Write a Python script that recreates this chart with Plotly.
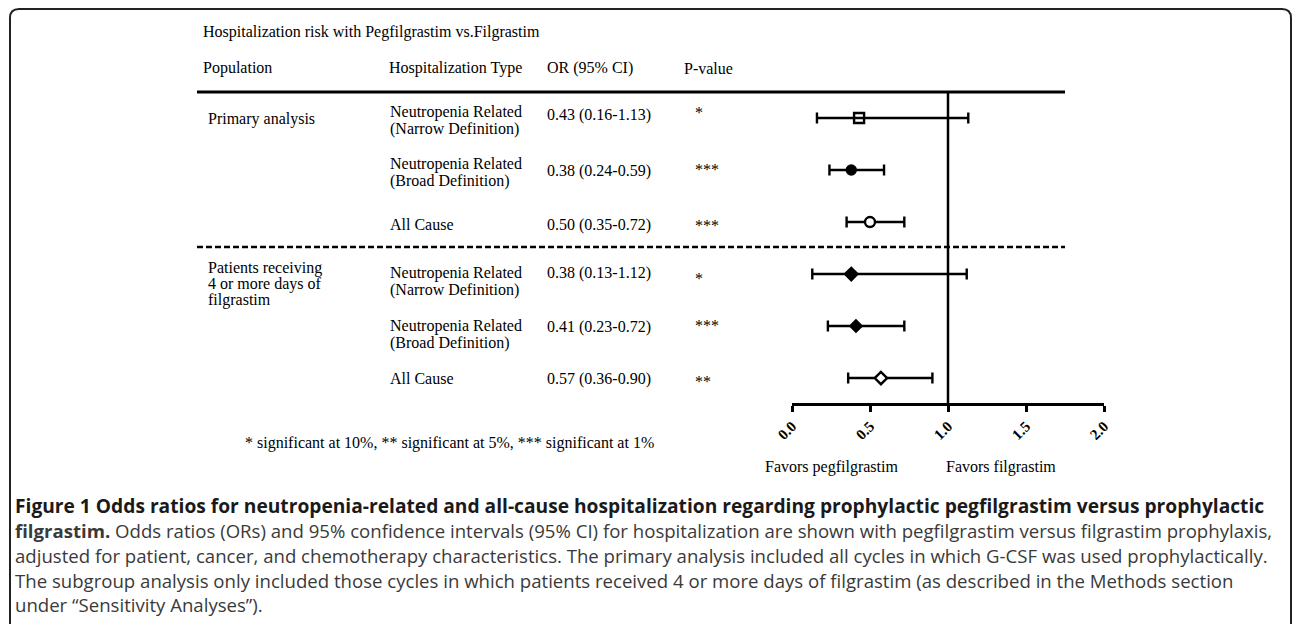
import plotly.graph_objects as go

W, H = 1292, 624

# ---------------- data ----------------
title_text = "Hospitalization risk with Pegfilgrastim vs.Filgrastim"
headers = ["Population", "Hospitalization Type", "OR (95% CI)", "P-value"]
populations = [["Primary analysis"], ["Patients receiving", "4 or more days of", "filgrastim"]]
hosp_types = [
    ["Neutropenia Related", "(Narrow Definition)"],
    ["Neutropenia Related", "(Broad Definition)"],
    ["All Cause"],
    ["Neutropenia Related", "(Narrow Definition)"],
    ["Neutropenia Related", "(Broad Definition)"],
    ["All Cause"],
]
odds = [0.43, 0.38, 0.50, 0.38, 0.41, 0.57]
ci_low = [0.16, 0.24, 0.35, 0.13, 0.23, 0.36]
ci_high = [1.13, 0.59, 0.72, 1.12, 0.72, 0.90]
pvals = ["*", "***", "***", "*", "***", "**"]
rows = [0, 1, 2, 3, 4, 5]
x_ticks = [0.0, 0.5, 1.0, 1.5, 2.0]
x_ticklabels = ["0.0", "0.5", "1.0", "1.5", "2.0"]
footnote = "* significant at 10%, ** significant at 5%, *** significant at 1%"
favors = ["Favors pegfilgrastim", "Favors filgrastim"]
caption_lines = [
    "<b>Figure 1 Odds ratios for neutropenia-related and all-cause hospitalization regarding prophylactic pegfilgrastim versus prophylactic</b>",
    "<b>filgrastim.</b> Odds ratios (ORs) and 95% confidence intervals (95% CI) for hospitalization are shown with pegfilgrastim versus filgrastim prophylaxis,",
    "adjusted for patient, cancer, and chemotherapy characteristics. The primary analysis included all cycles in which G-CSF was used prophylactically.",
    "The subgroup analysis only included those cycles in which patients received 4 or more days of filgrastim (as described in the Methods section",
    "under \u201cSensitivity Analyses\u201d).",
]

# ---------------- styles / layout positions ----------------
SERIF = "Liberation Serif"
SANS = "Open Sans"
symbols = ["square-open", "circle", "circle", "diamond", "diamond", "diamond"]
fills = ["black", "black", "white", "black", "black", "white"]
sizes = [10, 9, 10, 9.5, 8.5, 9.5]

def px(x):
    return x / W

def py(y):
    return 1 - y / H

fig = go.Figure()

fig.add_trace(go.Scatter(
    x=odds, y=rows, mode="markers",
    marker=dict(symbol=symbols, color=fills, size=sizes, opacity=1,
                line=dict(color="black", width=2.4)),
    error_x=dict(type="data", symmetric=False,
                 array=[h - o for h, o in zip(ci_high, odds)],
                 arrayminus=[o - l for o, l in zip(odds, ci_low)],
                 color="black", thickness=2.4, width=5.5),
    showlegend=False, hoverinfo="skip",
))

annotations = []

def txt(s, x, y, size=16, family=SERIF, color="black", anchor="left"):
    annotations.append(dict(text=s, x=px(x), y=py(y), xref="paper", yref="paper",
                            xanchor=anchor, yanchor="middle", showarrow=False,
                            font=dict(family=family, size=size, color=color)))

# title and headers
txt(title_text, 201, 32)
for h, hx in zip(headers, [201, 387, 545, 682]):
    txt(h, hx, 68)

# population labels
pop_y = [[119], [268, 284, 300]]
for lines, ys in zip(populations, pop_y):
    for s, yy in zip(lines, ys):
        txt(s, 206, yy)

# per-row text positions (pixel y of first line)
type_y = [112, 164, 224, 273, 326, 378]
or_y = [115, 171, 225, 273, 327, 379]
star_y = [112, 170, 225, 278, 325, 381]
for i in rows:
    for k, s in enumerate(hosp_types[i]):
        txt(s, 388, type_y[i] + 17 * k)
    txt(f"{odds[i]:.2f} ({ci_low[i]:.2f}-{ci_high[i]:.2f})", 545, or_y[i])
    txt(pvals[i], 693, star_y[i])

txt(footnote, 449, 443, anchor="center")
txt(favors[0], 831, 467, anchor="center")
txt(favors[1], 1001, 467, anchor="center")

cap_y = [505, 530, 555, 580, 604]
for k, (s, yy) in enumerate(zip(caption_lines, cap_y)):
    txt(s, 13, yy, size=19.2 if k == 0 else 18.6, family=SANS,
        color="#1a1a1a" if k == 0 else "#3a3a3a")

shapes = []
# top solid rule and dashed separator
shapes.append(dict(type="line", xref="paper", yref="paper",
                   x0=px(197), x1=px(1065), y0=py(92), y1=py(92),
                   line=dict(color="black", width=3)))
shapes.append(dict(type="line", xref="paper", yref="paper",
                   x0=px(197), x1=px(1065), y0=py(247), y1=py(247),
                   line=dict(color="black", width=2.5, dash="6px,3px")))
# reference line at OR = 1
shapes.append(dict(type="line", xref="x", yref="y domain",
                   x0=1, x1=1, y0=0, y1=1,
                   line=dict(color="black", width=2.5)))
# rounded border
r = 9
path = (f"M {px(10)},{py(700)} L {px(10)},{py(9 + r)} "
        f"Q {px(10)},{py(9)} {px(10 + r)},{py(9)} "
        f"L {px(1282)},{py(9)} Q {px(1291)},{py(9)} {px(1291)},{py(9 + r)} "
        f"L {px(1291)},{py(700)}")
shapes.append(dict(type="path", xref="paper", yref="paper", path=path,
                   line=dict(color="#222", width=2)))

fig.update_layout(
    width=W, height=H, autosize=False,
    margin=dict(l=0, r=0, t=0, b=0),
    paper_bgcolor="white", plot_bgcolor="rgba(0,0,0,0)",
    annotations=annotations, shapes=shapes,
    xaxis=dict(domain=[px(792), px(1104)], range=[0, 2],
               tickvals=x_ticks, ticktext=[f"<b>{t}</b>" for t in x_ticklabels],
               tickangle=-45, ticks="outside", ticklen=6, tickwidth=2.5,
               tickcolor="black", showline=True, linewidth=2.5, linecolor="black",
               showgrid=False, zeroline=False, automargin=False,
               tickfont=dict(family=SERIF, size=15, color="black"), fixedrange=True),
    yaxis=dict(domain=[py(403), py(92)], range=[5.48, -0.5], visible=False,
               showgrid=False, zeroline=False, automargin=False, fixedrange=True),
)

fig.write_html("out.html", config={"displayModeBar": False},
               post_script="document.body.style.margin='0';document.body.style.overflow='hidden';")
